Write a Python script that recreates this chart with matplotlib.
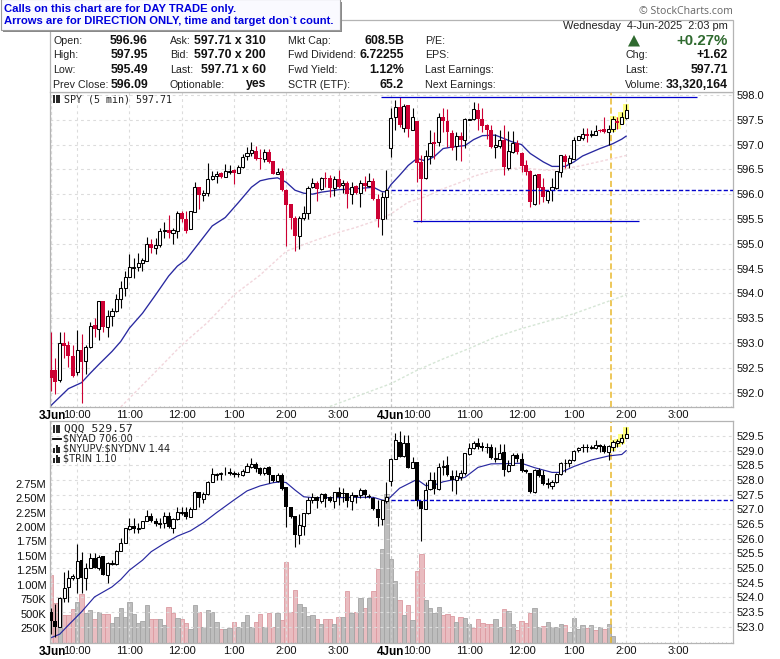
import numpy as np
import matplotlib
matplotlib.use("Agg")
import matplotlib.pyplot as plt
from matplotlib.patches import Rectangle, Polygon

# SPY 5 min bars
spy_open = [592.45,592.45,592.25,593.00,592.96,592.74,592.41,592.85,592.64,592.92,
            593.37,593.29,593.85,593.32,593.55,593.64,593.89,594.11,594.33,594.52,
            594.54,594.62,594.66,594.99,594.92,594.98,595.25,595.27,595.21,595.26,
            595.62,595.50,595.29,595.65,596.15,595.99,596.03,596.31,596.37,596.42,
            596.34,596.44,596.48,596.43,596.54,596.77,596.84,596.88,596.73,596.71,
            596.86,596.66,596.41,596.46,596.09,595.80,595.51,595.15,595.52,595.63,
            596.14,596.23,596.11,596.33,596.33,596.13,596.31,596.18,596.23,596.00,
            596.17,596.02,596.22,596.17,596.27,595.90,595.49,595.95,596.94,597.55,
            597.76,597.34,597.80,597.30,597.47,596.65,596.33,596.77,597.05,597.05,
            597.55,597.48,597.24,596.97,597.17,597.09,597.49,597.51,597.69,597.51,
            597.40,597.30,596.95,596.98,597.09,596.52,596.86,597.03,596.84,596.58,
            596.46,595.81,596.40,596.14,595.88,596.08,596.12,596.45,596.76,596.63,
            596.71,597.09,597.13,597.22,597.19,597.20,597.29,597.31,597.26,597.32,
            597.48,597.42,597.54]
spy_close = [592.29,592.22,593.00,592.93,592.74,592.34,592.85,592.61,592.92,593.35,
             593.28,593.85,593.32,593.55,593.64,593.89,594.11,594.33,594.53,594.54,
             594.62,594.68,594.99,594.92,594.98,595.26,595.27,595.21,595.27,595.62,
             595.49,595.26,595.66,596.14,595.99,596.03,596.31,596.37,596.41,596.34,
             596.46,596.46,596.42,596.54,596.75,596.83,596.90,596.71,596.71,596.85,
             596.65,596.41,596.44,596.08,595.79,595.51,595.15,595.52,595.62,596.13,
             596.22,596.11,596.33,596.31,596.13,596.31,596.15,596.22,596.00,596.15,
             596.03,596.22,596.16,596.27,595.90,595.49,595.95,596.08,597.53,597.75,
             597.40,597.78,597.32,597.55,596.63,596.30,596.77,597.04,597.02,597.56,
             597.47,597.25,596.94,597.17,597.09,597.51,597.51,597.71,597.51,597.38,
             597.29,596.95,597.00,597.10,596.55,596.87,597.04,596.85,596.56,596.44,
             595.84,596.39,596.13,595.94,596.07,596.14,596.46,596.78,596.65,596.73,
             597.10,597.17,597.22,597.17,597.21,597.28,597.28,597.25,597.32,597.51,
             597.44,597.55,597.69]
spy_high = [593.22,592.69,593.23,593.22,593.04,592.95,593.27,593.18,592.95,593.43,
            593.50,593.85,593.85,593.67,593.70,593.99,594.25,594.45,594.79,594.72,
            594.82,594.72,595.14,595.09,595.11,595.31,595.43,595.58,595.31,595.66,
            595.66,595.66,595.66,596.24,596.15,596.08,596.63,596.46,596.46,596.44,
            596.61,596.58,596.51,596.58,596.81,596.95,597.06,596.98,596.92,596.92,
            596.92,596.66,596.53,596.53,596.11,595.80,595.57,595.57,595.77,596.17,
            596.33,596.27,596.34,596.44,596.38,596.36,596.48,596.29,596.26,596.24,
            596.19,596.29,596.36,596.42,596.33,596.00,596.04,596.48,597.73,597.90,
            597.95,597.81,597.80,597.73,597.47,596.80,596.90,597.29,597.25,597.63,
            597.73,597.71,597.29,597.25,597.25,597.53,597.52,597.85,597.83,597.73,
            597.42,597.40,597.22,597.29,597.39,597.28,597.28,597.10,596.86,596.68,
            596.48,596.41,596.40,596.33,596.09,596.33,596.46,596.79,596.82,596.78,
            597.15,597.18,597.34,597.34,597.29,597.40,597.32,597.55,597.39,597.57,
            597.56,597.66,597.82]
spy_low = [592.03,591.98,592.22,592.70,592.52,592.32,592.35,591.80,592.37,592.89,
           593.13,593.06,593.23,593.12,593.35,593.62,593.70,593.94,594.33,594.31,
           594.45,594.45,594.65,594.82,594.79,594.93,595.11,595.12,595.00,595.11,
           595.43,595.21,595.29,595.65,595.71,595.87,595.97,596.29,596.22,596.33,
           596.34,596.41,596.21,596.43,596.53,596.69,596.76,596.68,596.51,596.65,
           596.62,596.40,596.40,596.07,594.96,595.29,594.86,594.90,595.48,595.50,
           596.13,595.87,596.09,596.14,595.95,595.97,596.13,596.02,595.73,595.80,
           596.00,595.75,596.07,596.14,595.89,595.33,595.18,595.50,596.75,597.29,
           597.36,597.26,597.15,597.29,596.24,595.44,596.31,596.60,596.71,596.98,
           597.25,596.95,596.90,596.68,596.67,596.94,597.49,597.49,597.29,597.25,
           597.12,596.94,596.73,596.94,596.38,596.48,596.84,596.82,596.44,596.38,
           595.75,595.79,595.80,595.84,595.82,595.87,596.11,596.34,596.53,596.53,
           596.71,597.09,597.09,597.05,597.15,597.19,597.26,597.23,597.00,597.25,
           597.32,597.41,597.52]

# moving averages
spy_ma_bars = [0,2,4,7,9,11,14,16,18,21,24,27,29,31,34,37,40,43,46,48,50,52,54,56,58,60,62,66,70,74,76,77,78,80,82,84,86,88,90,92,95,97,99,102,106,108,110,113,115,118,120,122,126,129,131,132]
spy_ma = [591.74,591.91,592.08,592.20,592.39,592.57,592.83,593.03,593.30,593.60,593.97,594.35,594.55,594.68,595.02,595.36,595.53,595.83,596.14,596.27,596.31,596.33,596.24,596.08,596.02,596.00,596.04,596.09,596.11,596.14,596.05,596.05,596.19,596.38,596.58,596.72,596.67,596.76,596.92,596.95,596.98,597.10,597.18,597.19,597.05,597.00,596.82,596.65,596.56,596.56,596.65,596.77,596.92,597.02,597.11,597.17]
spy_pink_bars = [16,24,30,36,42,48,54,60,66,70,75,78,82,86,90,94,97,102,108,114,118,122,127,132]
spy_pink = [591.71,592.42,592.96,593.42,593.97,594.37,594.85,595.05,595.23,595.33,595.48,595.60,595.84,595.95,596.11,596.24,596.36,596.49,596.53,596.48,596.51,596.58,596.68,596.78]
spy_green_bars = [64,74,78,84,90,96,102,108,120,132]
spy_green = [591.72,592.05,592.18,592.45,592.68,592.89,593.12,593.29,593.59,593.97]

# QQQ 5 min bars
qqq_open = [523.52,523.19,523.00,523.98,524.36,524.65,524.65,525.27,524.65,525.02,
            525.33,525.02,525.41,524.76,525.13,525.13,525.59,525.86,526.32,526.45,
            526.32,526.37,526.62,526.76,526.60,526.50,526.53,526.76,526.38,526.66,
            526.88,526.91,526.75,527.03,527.58,527.35,527.51,527.92,528.16,528.19,
            528.25,528.26,528.19,528.21,528.17,528.26,528.46,528.55,528.40,528.23,
            528.43,528.17,527.98,528.17,527.75,527.07,526.77,526.14,526.45,526.87,
            527.32,527.41,527.27,527.52,527.41,527.30,527.60,527.57,527.55,527.30,
            527.48,527.48,527.66,527.46,527.38,527.02,526.68,527.27,527.97,528.73,
            529.31,528.82,529.25,528.42,528.60,527.28,527.02,527.68,528.00,527.68,
            528.45,528.50,528.15,528.01,528.11,528.23,528.89,529.08,529.25,529.16,
            529.14,529.11,528.70,528.70,528.94,528.32,528.51,528.85,528.70,528.34,
            528.25,527.58,528.34,528.17,527.89,527.80,527.92,528.21,528.57,528.57,
            528.68,529.02,529.13,529.14,529.08,529.09,529.18,529.16,528.97,529.14,
            529.25,529.31,529.44]
qqq_close = [523.20,523.00,523.98,524.34,524.65,524.73,525.24,524.65,525.02,525.33,
             525.02,525.38,524.76,525.18,525.18,525.59,525.86,526.35,526.45,526.32,
             526.35,526.62,526.76,526.61,526.49,526.54,526.76,526.41,526.66,526.91,
             526.91,526.75,527.03,527.58,527.38,527.51,527.94,528.19,528.19,528.23,
             528.23,528.22,528.23,528.17,528.32,528.48,528.53,528.36,528.19,528.40,
             528.16,527.98,528.18,527.69,527.09,526.75,526.14,526.46,526.87,527.32,
             527.41,527.29,527.52,527.37,527.30,527.58,527.43,527.52,527.30,527.48,
             527.41,527.66,527.48,527.41,527.00,526.71,527.32,527.41,528.70,529.35,
             528.80,529.25,528.42,528.60,527.28,527.00,527.66,528.00,527.68,528.45,
             528.49,528.16,528.00,528.15,528.23,528.91,529.08,529.27,529.11,529.08,
             529.08,528.74,528.74,528.93,528.34,528.51,528.85,528.70,528.32,528.26,
             527.60,528.34,528.14,527.85,527.83,527.92,528.21,528.57,528.59,528.68,
             528.98,529.08,529.10,529.10,529.11,529.18,529.14,528.97,529.16,529.31,
             529.33,529.42,529.56]
qqq_high = [523.63,523.79,524.02,524.87,524.93,524.79,525.81,525.56,525.16,525.50,
            525.50,525.44,525.41,525.21,525.27,525.61,526.01,526.38,526.71,526.69,
            526.52,526.62,526.98,526.88,526.69,526.69,526.92,526.92,526.69,527.09,
            527.09,527.09,527.09,527.63,527.58,527.60,527.98,528.40,528.25,528.26,
            528.43,528.40,528.31,528.29,528.36,528.59,528.74,528.63,528.43,528.46,
            528.48,528.17,528.25,528.25,527.75,527.09,526.77,526.84,526.89,527.41,
            527.57,527.46,527.55,527.55,527.46,527.60,527.77,527.72,527.57,527.60,
            527.49,527.72,527.68,527.52,527.41,527.32,527.32,527.94,528.74,529.59,
            529.67,529.53,529.53,528.80,528.60,527.28,527.94,528.28,528.28,528.59,
            528.68,528.82,528.34,528.34,528.34,528.93,529.25,529.34,529.42,529.31,
            529.25,529.23,529.11,529.23,529.23,528.68,528.91,528.93,528.91,528.36,
            528.25,528.36,528.40,528.34,528.06,528.00,528.23,528.63,528.70,528.70,
            529.02,529.14,529.23,529.23,529.19,529.36,529.23,529.23,529.19,529.36,
            529.39,529.57,529.82]
qqq_low = [522.77,522.66,523.00,523.85,523.85,524.59,524.14,524.14,524.25,525.02,
           525.02,524.93,524.76,524.48,525.10,525.10,525.58,525.84,526.29,526.18,
           526.18,526.35,526.61,526.58,526.43,526.38,526.38,526.38,526.18,526.63,
           526.80,526.67,526.75,527.03,527.09,527.21,527.49,527.92,528.00,528.00,
           528.17,528.16,528.11,528.09,528.14,528.26,528.40,528.29,528.17,528.17,
           527.89,527.94,527.94,527.66,526.41,526.70,525.73,525.82,526.13,526.84,
           527.23,527.04,527.21,527.09,527.26,527.04,527.15,527.26,527.07,526.98,
           527.21,527.38,527.38,527.38,526.98,526.43,526.46,527.21,527.80,528.73,
           528.77,528.80,528.40,528.40,527.11,525.93,527.00,527.66,527.52,527.66,
           528.17,528.14,527.64,527.52,528.00,528.17,528.85,529.05,529.05,529.00,
           528.91,528.70,528.63,528.70,528.14,528.28,528.51,528.63,528.28,528.23,
           527.57,527.57,528.09,527.83,527.72,527.68,527.89,528.17,528.28,528.45,
           528.66,528.97,528.97,528.94,529.05,529.05,528.97,528.93,528.68,529.00,
           529.14,529.23,529.42]
qqq_ma_bars = [0,2,4,7,10,12,14,16,18,21,23,26,29,32,35,38,42,45,48,51,53,54,56,58,60,66,70,74,76,77,80,84,86,88,90,92,95,98,101,105,108,111,115,117,120,124,128,131,132]
qqq_ma = [522.63,522.75,523.06,523.51,524.02,524.19,524.36,524.61,524.93,525.27,525.56,525.84,526.09,526.27,526.55,526.89,527.32,527.63,527.80,527.91,527.94,527.91,527.66,527.43,527.40,527.40,527.41,527.41,527.32,527.29,527.72,528.02,527.81,527.83,527.94,528.00,528.09,528.43,528.55,528.56,528.57,528.42,528.26,528.26,528.46,528.68,528.82,528.87,529.00]

# volume in thousands, p = pink (down), g = gray (up)
volume = [1162,678,764,476,476,574,707,839,505,562,
          407,522,493,493,332,447,591,447,707,493,
          343,372,649,401,401,401,303,609,505,418,
          401,332,228,649,533,274,557,522,349,228,
          228,245,360,262,360,470,262,349,487,274,
          505,274,505,383,1387,533,903,661,609,458,
          470,401,314,401,401,314,448,436,898,505,
          523,765,592,765,892,1267,1613,2571,1440,1059,
          730,471,644,390,1238,1527,736,592,505,609,
          477,494,459,361,436,419,315,246,401,332,
          321,321,401,263,575,540,321,217,373,344,
          505,592,263,292,355,263,263,321,304,182,
          419,228,298,251,298,211,275,228,315,107]
volume_color = list("ppgpppgpgg" "pgppgggggg" "gggppggppg" "ppggpggggp" "ggpggggppg"
                    "ppgppppggg" "gpgppgpgpg" "pgpgppgggg" "pgpgppgggg" "pppgpggppp"
                    "ppggpggppp" "pggpggggpg" "gggpgpgpgg")

tick_bars = [6,18,30,42,54,66,84,96,108,120,132,144]
tick_text = ["10:00","11:00","12:00","1:00","2:00","3:00","10:00","11:00","12:00","1:00","2:00","3:00"]
spy_ticks = [592.0,592.5,593.0,593.5,594.0,594.5,595.0,595.5,596.0,596.5,597.0,597.5,598.0]
qqq_ticks = [523.0,523.5,524.0,524.5,525.0,525.5,526.0,526.5,527.0,527.5,528.0,528.5,529.0,529.5]
vol_ticks = [250,500,750,1000,1250,1500,1750,2000,2250,2500,2750]
vol_text = ["250K","500K","750K","1.00M","1.25M","1.50M","1.75M","2.00M","2.25M","2.50M","2.75M"]

spy_prev_close = 596.09
qqq_prev_close = 527.33
spy_top_line = 597.95
spy_low_line = 595.45
now_bar = 128.6

plt.rcParams['font.family'] = ['Liberation Sans', 'DejaVu Sans']

GRID = '#dcdcdc'
FRAME = '#b4b4b4'
NAVY = '#2828a0'
BLUE = '#0000cc'
GOLD = '#e8b82c'
TEXT = '#111111'
W, H = 780, 659
bars = np.arange(len(spy_open))


def axes_px(fig, left, top, right, bottom):
    return fig.add_axes([left / W, 1 - bottom / H, (right - left) / W, (bottom - top) / H])


def style_price_axes(ax, ticks):
    ax.set_xlim(-0.23, 156.6)
    ax.yaxis.tick_right()
    ax.set_yticks(ticks)
    ax.set_yticklabels(["%.1f" % t for t in ticks], fontsize=8, color=TEXT)
    ax.set_xticks(tick_bars)
    ax.set_xticklabels(tick_text, fontsize=8, color=TEXT)
    ax.set_xticks(np.arange(157), minor=True)
    ax.tick_params(axis='x', which='major', length=0, pad=2.5)
    ax.tick_params(axis='x', which='minor', length=1, direction='in', color=FRAME, width=0.6)
    ax.tick_params(axis='y', length=0, pad=2.5)
    ax.grid(True, color=GRID, linestyle=(0, (2.5, 3)), linewidth=0.8)
    ax.set_axisbelow(True)
    for b in (0, 78):
        ax.axvline(b, color='#c8c8c8' if b else GRID, linestyle=(0, (2.5, 2)), linewidth=0.9, zorder=0.5)
    for s in ax.spines.values():
        s.set_color(FRAME)
        s.set_linewidth(0.9)
    ax.text(0.4, -0.012, "3Jun", transform=ax.get_xaxis_transform(), ha='center', va='top',
            fontsize=8.5, fontweight='bold', clip_on=False)
    ax.text(78, -0.012, "4Jun", transform=ax.get_xaxis_transform(), ha='center', va='top',
            fontsize=8.5, fontweight='bold', clip_on=False)
    ax.axvline(now_bar, color=GOLD, linestyle=(0, (4, 2)), linewidth=1.1, zorder=1.2)


def draw_candles(ax, o, h, l, c, fill, z=3):
    o, h, l, c = map(np.array, (o, h, l, c))
    up = c >= o
    low_body = np.minimum(o, c)
    body = np.maximum(np.abs(c - o), 0.012)
    ax.vlines(bars[up], l[up], h[up], color='black', linewidth=0.8, zorder=z)
    ax.vlines(bars[~up], l[~up], h[~up], color=fill, linewidth=0.8, zorder=z)
    ax.bar(bars[up], body[up], bottom=low_body[up], width=0.72, facecolor='white',
           edgecolor='black', linewidth=0.75, zorder=z + 0.1)
    ax.bar(bars[~up], body[~up], bottom=low_body[~up], width=0.9, facecolor=fill,
           edgecolor='none', zorder=z + 0.1)
    # last bars are highlighted
    last = bars[-4:]
    ax.bar(last, (h - l)[-4:], bottom=l[-4:], width=1.5, color='#ffff80', zorder=z - 0.5)


fig = plt.figure(figsize=(W / 100, H / 100), dpi=100, facecolor='white')

# SPY panel
ax1 = axes_px(fig, 50, 91.5, 733.3, 406.5)
ax1.set_ylim(591.72, 598.07)
style_price_axes(ax1, spy_ticks)
ax1.plot(spy_green_bars, spy_green, color='#d6e6d6', linestyle=(0, (2, 1.5)), linewidth=1, zorder=1.5)
ax1.plot(spy_pink_bars, spy_pink, color='#f2d6dc', linestyle=(0, (2, 1.5)), linewidth=1, zorder=1.5)
ax1.plot(spy_ma_bars, spy_ma, color=NAVY, linewidth=0.95, zorder=2.5)
draw_candles(ax1, spy_open, spy_high, spy_low, spy_close, '#cc0033')
ax1.plot([75.8, 148.3], [spy_top_line, spy_top_line], color=BLUE, linewidth=0.9, zorder=5, solid_capstyle='butt')
ax1.plot([83.1, 135], [spy_low_line, spy_low_line], color=BLUE, linewidth=0.9, zorder=5, solid_capstyle='butt')
ax1.plot([78, 156.6], [spy_prev_close, spy_prev_close], color=BLUE, linewidth=1,
         linestyle=(0, (3, 1.6)), zorder=5)

# QQQ panel with volume behind it
ax2 = axes_px(fig, 50, 421, 733.3, 643)
axv = ax2.twinx()
ax2.set_ylim(522.45, 530.01)
style_price_axes(ax2, qqq_ticks)
ax2.patch.set_alpha(0)
axv.set_zorder(0)
ax2.set_zorder(1)
axv.patch.set_visible(True)
axv.patch.set_facecolor('white')
axv.set_ylim(-8.6, 3834)
axv.yaxis.tick_left()
axv.set_yticks(vol_ticks)
axv.set_yticklabels(vol_text, fontsize=8, color=TEXT)
axv.tick_params(axis='y', length=0, pad=2.5)
for s in axv.spines.values():
    s.set_visible(False)
vbars = np.arange(len(volume))
for name, face, edge in (('p', '#e9bcc0', '#dc9aa0'), ('g', '#bdbdbd', '#a4a4a4')):
    mask = np.array(volume_color) == name
    axv.bar(vbars[mask], np.array(volume)[mask], width=1.0, facecolor=face, edgecolor=edge,
            linewidth=0.6, zorder=2)
axv.set_xlim(-0.23, 156.6)
ax2.plot(qqq_ma_bars, qqq_ma, color=NAVY, linewidth=0.85, zorder=2.5)
draw_candles(ax2, qqq_open, qqq_high, qqq_low, qqq_close, 'black')
ax2.plot([78, 156.6], [qqq_prev_close, qqq_prev_close], color=BLUE, linewidth=1,
         linestyle=(0, (3, 1.6)), zorder=5)

# overlay in pixel coordinates for header text and boxes
ov = fig.add_axes([0, 0, 1, 1], zorder=10)
ov.set_xlim(0, W)
ov.set_ylim(H, 0)
ov.axis('off')


def label(x, y, s, **kw):
    kw.setdefault('fontsize', 7.7)
    kw.setdefault('color', '#222222')
    ov.text(x, y, s, va='center', **kw)


def value(x, y, s, **kw):
    kw.setdefault('fontsize', 8.8)
    ov.text(x, y, s, ha='right', va='center', fontweight='bold', color='#111111', **kw)


ov.add_patch(Rectangle((50, 19.5), 683.3, 72, facecolor='white', edgecolor=FRAME, linewidth=0.9))
rows = [41, 55.5, 70, 84.5]
for y, a, b in zip(rows, ["Open:", "High:", "Low:", "Prev Close:"], ["596.96", "597.95", "595.49", "596.09"]):
    label(53, y, a)
    value(148, y, b)
for y, a, b in zip(rows, ["Ask:", "Bid:", "Last:", "Optionable:"],
                   ["597.71 x 310", "597.70 x 200", "597.71 x 60", "yes"]):
    label(170, y, a)
    value(266, y, b)
for y, a, b in zip(rows, ["Mkt Cap:", "Fwd Dividend:", "Fwd Yield:", "SCTR (ETF):"],
                   ["608.5B", "6.72255", "1.12%", "65.2"]):
    label(288, y, a)
    value(404, y, b)
for y, a in zip(rows, ["P/E:", "EPS:", "Last Earnings:", "Next Earnings:"]):
    label(425, y, a)
for y, a, b in zip(rows[1:], ["Chg:", "Last:", "Volume:"], ["+1.62", "597.71", "33,320,164"]):
    label(625, y, a)
    value(728, y, b)
ov.text(728, 26, "Wednesday  4-Jun-2025  2:03 pm", ha='right', va='center', fontsize=7.9, color='#222222')
ov.text(728, 41, "+0.27%", ha='right', va='center', fontsize=10.8, fontweight='bold', color='#2f6a2f')
ov.add_patch(Polygon([[628, 46.5], [640, 46.5], [634, 35]], facecolor='#2f6a2f', edgecolor='none'))
ov.text(733, 11.5, "\u00a9 StockCharts.com", ha='right', va='center', fontsize=7.6, color='#666666',
        family=['Open Sans', 'DejaVu Sans'])

# note box top left
ov.add_patch(Rectangle((3, 2), 339, 30, facecolor='#8a8a8a', edgecolor='none'))
ov.add_patch(Rectangle((1, -1), 339, 31, facecolor='#fafaff', edgecolor='#9a9a9a', linewidth=0.8))
ov.text(4, 9, "Calls on this chart are for DAY TRADE only.", va='center', fontsize=8.1,
        fontweight='bold', color='#0000dd')
ov.text(4, 21, "Arrows are for DIRECTION ONLY, time and target don`t count.", va='center', fontsize=8.1,
        fontweight='bold', color='#0000dd')

# panel legends
mono = ['DejaVu Sans Mono']
ov.text(64, 99, "SPY (5 min) 597.71", va='center', fontsize=7.2, family=mono, color='#222222')
ov.text(64, 428.5, "QQQ 529.57", va='center', fontsize=8.2, family=mono, color='#222222')
sans = ['DejaVu Sans']
ov.text(63, 438.5, r"\$NYAD 706.00", va='center', fontsize=7, family=sans, color='#222222')
ov.text(63, 448.5, r"\$NYUPV:\$NYDNV 1.44", va='center', fontsize=7, family=sans, color='#222222')
ov.text(63, 458.5, r"\$TRIN 1.10", va='center', fontsize=7, family=sans, color='#222222')
for yc in (99, 428.5):
    ov.vlines([54, 56.5, 59], yc - 4, yc + 4, color='black', linewidth=1.2)
ov.plot([53, 61], [438.5, 438.5], color='black', linewidth=1.3)
for yc in (448.5, 458.5):
    ov.bar([54, 56.5, 59], [5, 8, 6], bottom=[yc + 4 - 5, yc + 4 - 8, yc + 4 - 6], width=2, color='#222222')

fig.savefig("out.png", dpi=100)
